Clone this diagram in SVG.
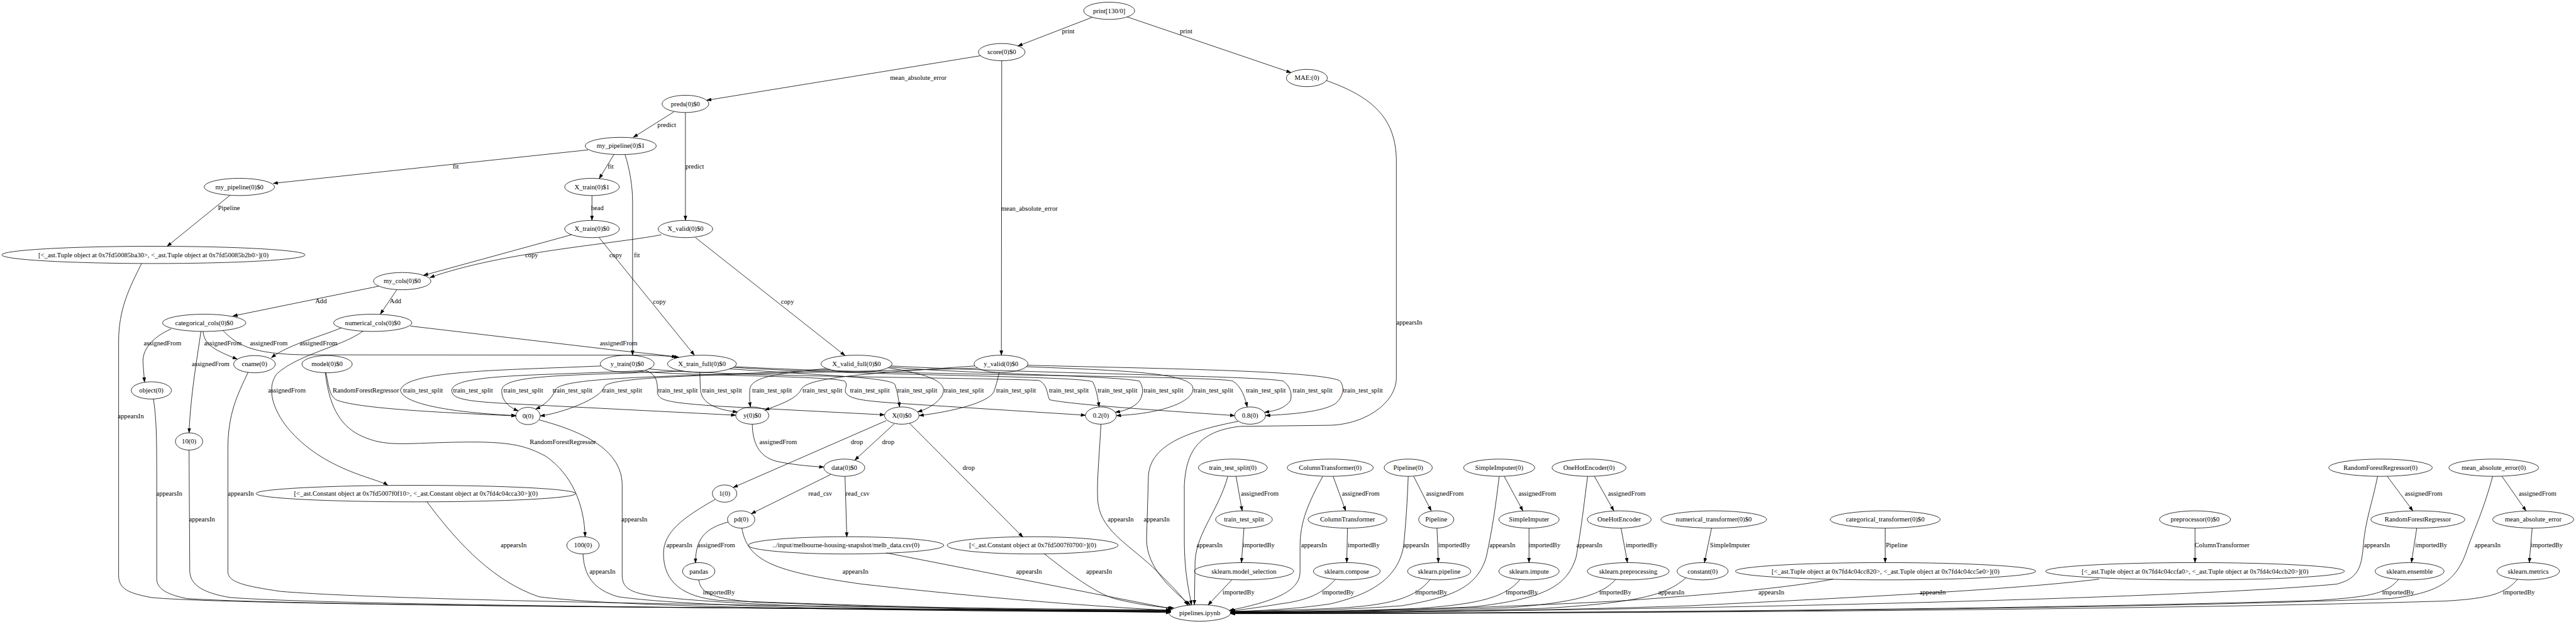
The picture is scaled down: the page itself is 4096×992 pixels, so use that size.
<svg xmlns="http://www.w3.org/2000/svg" width="4096" height="992" viewBox="0 0 4096 992">
<defs>
<style>
.n ellipse{fill:none;stroke:#000;stroke-width:1.4}
text{font-family:"Liberation Serif","Times New Roman",serif;font-size:18.67px;text-anchor:middle;fill:#000}
.e path{fill:none;stroke:#000;stroke-width:1.4;marker-end:url(#ah)}
</style>
<marker id="ah" markerUnits="userSpaceOnUse" markerWidth="14" markerHeight="10" refX="13" refY="5" orient="auto"><path d="M0,0 L14,5 L0,10 z" fill="#000"/></marker>
</defs>
<rect width="4096" height="992" fill="#fff"/>
<g transform="scale(0.57151)">
<g id="edges" class="e">
<path d="M3039,48 L2832,128"/><text x="2972" y="93">print</text>
<path d="M3136,47 L3592,202"/><text x="3300" y="93">print</text>
<path d="M2728,155 L1966,279"/><text x="2555" y="223">mean_absolute_error</text>
<path d="M2787,169 L2786,988"/><text x="2864" y="586">mean_absolute_error</text>
<path d="M1907,313 L1907,613"/><text x="1933" y="469">predict</text>
<path d="M1875,311 L1762,382"/><text x="1855" y="353">predict</text>
<path d="M1636,417 L760,510"/><text x="1268" y="469">fit</text>
<path d="M1708,430 L1667,497"/><text x="1699" y="469">fit</text>
<path d="M1739,430 C1752,470 1760,520 1760,560 L1760,988"/><text x="1772" y="715">fit</text>
<path d="M639,544 L465,685"/><text x="637" y="585">Pipeline</text>
<path d="M1647,544 L1647,613"/><text x="1662" y="585">head</text>
<path d="M1590,653 L1178,766"/><text x="1479" y="715">copy</text>
<path d="M1840,653 C1700,680 1400,700 1196,772"/><text x="1713" y="715">copy</text>
<path d="M1667,661 L1932,988"/><text x="1835" y="845">copy</text>
<path d="M1935,661 L2351,989"/><text x="2191" y="845">copy</text>
<path d="M1054,796 L648,879"/><text x="893" y="844">Add</text>
<path d="M1104,806 L1058,874"/><text x="1100" y="844">Add</text>
<path d="M476,915 C420,940 395,975 398,1010 L402,1063"/><text x="452" y="960">assignedFrom</text>
<path d="M559,922 C548,1000 530,1100 526,1204"/><text x="586" y="1019">assignedFrom</text>
<path d="M565,922 C568,960 600,975 660,999"/><text x="620" y="960">assignedFrom</text>
<path d="M620,919 C660,960 700,985 850,987 L1800,988 C1840,989 1865,991 1889,994"/><text x="748" y="960">assignedFrom</text>
<path d="M950,912 C880,940 800,960 755,995"/><text x="886" y="960">assignedFrom</text>
<path d="M1010,921 C950,965 830,985 770,1040 C740,1080 760,1140 800,1190 C900,1310 1050,1330 1079,1350"/><text x="798" y="1091">assignedFrom</text>
<path d="M1142,907 L1720,975 C1800,983 1850,988 1882,993"/><text x="1721" y="960">assignedFrom</text>
<path d="M907,1037 C915,1080 918,1100 935,1112 C1000,1140 1300,1150 1435,1157"/><text x="1018" y="1091">RandomForestRegressor</text>
<path d="M905,1037 C915,1120 940,1180 1000,1210 C1060,1240 1110,1235 1200,1232 C1400,1225 1450,1232 1520,1270 C1590,1320 1625,1400 1628,1493"/><text x="1566" y="1235">RandomForestRegressor</text>
<path d="M394,733 C360,800 330,860 330,950 L330,1600 C330,1640 360,1650 420,1662 C700,1690 3000,1695 3257,1698"/><text x="364" y="1164">appearsIn</text>
<path d="M427,1110 C434,1160 436,1200 436,1300 L436,1610 C436,1640 470,1655 520,1665 C900,1690 3000,1696 3257,1699"/><text x="471" y="1379">appearsIn</text>
<path d="M526,1252 L528,1590 C530,1630 570,1650 640,1662 C1000,1690 3000,1697 3257,1700"/><text x="562" y="1451">appearsIn</text>
<path d="M690,1036 C660,1100 634,1150 634,1250 L634,1590 C634,1620 680,1630 780,1645 C1200,1680 3000,1694 3257,1697"/><text x="670" y="1379">appearsIn</text>
<path d="M1188,1396 C1280,1520 1380,1620 1500,1660 C1800,1700 3000,1700 3257,1701"/><text x="1429" y="1523">appearsIn</text>
<path d="M1622,1541 C1625,1600 1650,1640 1720,1660 C2000,1700 3000,1702 3257,1702"/><text x="1676" y="1596">appearsIn</text>
<path d="M1500,1168 C1620,1200 1731,1250 1731,1350 L1731,1600 C1731,1640 1760,1650 1830,1660 C2200,1700 3000,1700 3257,1700"/><text x="1765" y="1451">appearsIn</text>
<path d="M3690,224 C3820,270 3885,330 3885,450 L3885,1050 C3885,1120 3800,1180 3700,1183 L3450,1186 C3330,1200 3300,1260 3295,1350 L3295,1500 C3295,1600 3310,1650 3315,1683"/><text x="3921" y="903">appearsIn</text>
<path d="M1672,1018 C1400,1030 1130,1030 1114,1085 C1120,1130 1300,1150 1436,1156"/><text x="1177" y="1091">train_test_split</text>
<path d="M1790,1031 C1500,1045 1262,1040 1257,1085 C1255,1110 1300,1116 1400,1122 L2047,1155"/><text x="1316" y="1091">train_test_split</text>
<path d="M1900,1032 C1600,1045 1400,1040 1396,1085 C1395,1110 1410,1130 1442,1143"/><text x="1456" y="1091">train_test_split</text>
<path d="M2310,1028 C1900,1050 1560,1045 1545,1085 C1535,1110 1510,1130 1490,1138"/><text x="1593" y="1091">train_test_split</text>
<path d="M2720,1024 C2200,1040 1700,1040 1682,1075 C1672,1110 1560,1150 1503,1157"/><text x="1731" y="1091">train_test_split</text>
<path d="M1795,1030 C1825,1040 1830,1060 1829,1090 C1830,1115 1860,1120 2000,1130 L2461,1154"/><text x="1886" y="1091">train_test_split</text>
<path d="M1947,1036 C1948,1060 1948,1075 1949,1085 C1952,1120 1990,1140 2052,1146"/><text x="2009" y="1091">train_test_split</text>
<path d="M2300,1025 C2150,1040 2088,1050 2086,1085 C2085,1110 2086,1120 2088,1132"/><text x="2148" y="1091">train_test_split</text>
<path d="M2712,1018 C2400,1040 2240,1050 2228,1085 C2215,1110 2170,1125 2128,1141"/><text x="2288" y="1091">train_test_split</text>
<path d="M1780,1033 C1900,1045 2300,1045 2350,1060 C2360,1070 2350,1080 2352,1090 C2360,1110 2400,1115 2500,1122 L3020,1155"/><text x="2420" y="1091">train_test_split</text>
<path d="M2030,1026 C2300,1045 2480,1050 2490,1070 C2497,1090 2500,1110 2503,1132"/><text x="2552" y="1091">train_test_split</text>
<path d="M2470,1023 C2580,1040 2625,1060 2625,1085 C2625,1110 2590,1135 2553,1146"/><text x="2682" y="1091">train_test_split</text>
<path d="M2780,1036 C2775,1060 2770,1075 2765,1090 C2750,1120 2650,1145 2557,1156"/><text x="2827" y="1091">train_test_split</text>
<path d="M1805,1026 C2000,1048 2700,1050 2890,1058 C2915,1070 2912,1095 2920,1112 C2980,1125 3200,1140 3435,1156"/><text x="2974" y="1091">train_test_split</text>
<path d="M2040,1022 C2400,1045 3000,1045 3040,1062 C3050,1080 3055,1110 3058,1132"/><text x="3109" y="1091">train_test_split</text>
<path d="M2475,1021 C2700,1040 3100,1045 3170,1060 C3185,1080 3180,1110 3160,1125 C3140,1140 3120,1144 3103,1147"/><text x="3237" y="1091">train_test_split</text>
<path d="M2855,1020 C3100,1030 3300,1035 3318,1075 C3330,1110 3250,1150 3106,1156"/><text x="3376" y="1091">train_test_split</text>
<path d="M2045,1020 C2500,1045 3380,1045 3430,1060 C3455,1075 3465,1110 3470,1132"/><text x="3522" y="1091">train_test_split</text>
<path d="M2480,1018 C2900,1040 3500,1045 3570,1060 C3592,1075 3595,1100 3590,1115 C3575,1135 3550,1143 3518,1147"/><text x="3652" y="1091">train_test_split</text>
<path d="M2858,1016 C3200,1025 3650,1030 3726,1058 C3740,1070 3742,1100 3715,1123 C3680,1145 3600,1152 3521,1156"/><text x="3792" y="1091">train_test_split</text>
<path d="M2093,1180 C2094,1230 2110,1270 2160,1283 C2200,1292 2250,1297 2292,1299"/><text x="2165" y="1235">assignedFrom</text>
<path d="M2488,1179 L2378,1280"/><text x="2471" y="1235">drop</text>
<path d="M2466,1170 L2040,1356"/><text x="2384" y="1235">drop</text>
<path d="M2531,1178 L2846,1494"/><text x="2695" y="1307">drop</text>
<path d="M2311,1320 L2090,1429"/><text x="2282" y="1379">read_csv</text>
<path d="M2351,1325 L2356,1494"/><text x="2386" y="1379">read_csv</text>
<path d="M2026,1452 C1960,1470 1935,1500 1935,1566"/><text x="1993" y="1523">assignedFrom</text>
<path d="M1990,1389 C1900,1440 1846,1480 1846,1540 C1846,1620 1900,1660 2000,1670 C2500,1690 3000,1698 3257,1703"/><text x="1890" y="1523">appearsIn</text>
<path d="M2064,1469 C2080,1560 2150,1590 2400,1625 C2800,1670 3100,1690 3257,1698"/><text x="2380" y="1595">appearsIn</text>
<path d="M1944,1613 C1950,1650 1980,1665 2100,1675 C2600,1695 3000,1700 3257,1704"/><text x="2000" y="1653">importedBy</text>
<path d="M2466,1538 L3262,1694"/><text x="2863" y="1595">appearsIn</text>
<path d="M2905,1540 C2980,1600 3050,1650 3100,1665 C3180,1685 3240,1690 3266,1691"/><text x="3058" y="1595">appearsIn</text>
<path d="M3063,1180 C3058,1280 3050,1350 3055,1400 C3065,1480 3150,1520 3220,1590 C3260,1630 3290,1660 3305,1684"/><text x="3118" y="1451">appearsIn</text>
<path d="M3445,1172 C3300,1200 3195,1240 3195,1330 L3190,1500 C3190,1580 3260,1640 3312,1683"/><text x="3218" y="1451">appearsIn</text>
<path d="M3439,1325 L3456,1421"/><text x="3505" y="1379">assignedFrom</text>
<path d="M3416,1325 C3390,1420 3330,1480 3325,1560 L3323,1682"/><text x="3365" y="1523">appearsIn</text>
<path d="M3461,1469 L3454,1565"/><text x="3502" y="1523">importedBy</text>
<path d="M3427,1613 L3361,1683"/><text x="3446" y="1653">importedBy</text>
<path d="M3709,1325 L3744,1421"/><text x="3786" y="1379">assignedFrom</text>
<path d="M3680,1325 C3640,1400 3617,1450 3617,1520 L3617,1590 C3617,1640 3560,1670 3420,1698"/><text x="3656" y="1523">appearsIn</text>
<path d="M3749,1469 L3747,1565"/><text x="3794" y="1523">importedBy</text>
<path d="M3715,1612 C3680,1650 3640,1670 3560,1680 C3500,1690 3460,1695 3424,1700"/><text x="3723" y="1653">importedBy</text>
<path d="M3933,1325 L3982,1421"/><text x="4020" y="1379">assignedFrom</text>
<path d="M3918,1325 C3915,1400 3912,1450 3905,1520 C3890,1600 3830,1650 3700,1680 C3600,1695 3500,1699 3424,1701"/><text x="3940" y="1523">appearsIn</text>
<path d="M3998,1469 L4002,1565"/><text x="4046" y="1523">importedBy</text>
<path d="M3979,1612 C3940,1660 3880,1680 3750,1690 C3600,1698 3480,1700 3424,1701"/><text x="3982" y="1653">importedBy</text>
<path d="M4185,1325 L4237,1421"/><text x="4277" y="1379">assignedFrom</text>
<path d="M4171,1325 C4160,1420 4150,1480 4135,1550 C4110,1630 4050,1660 3900,1685 C3700,1700 3500,1701 3424,1702"/><text x="4180" y="1523">appearsIn</text>
<path d="M4254,1469 L4254,1565"/><text x="4297" y="1523">importedBy</text>
<path d="M4229,1612 C4190,1660 4120,1680 3950,1692 C3700,1702 3500,1702 3424,1702"/><text x="4234" y="1653">importedBy</text>
<path d="M4436,1325 L4490,1421"/><text x="4526" y="1379">assignedFrom</text>
<path d="M4417,1325 C4405,1420 4398,1480 4385,1550 C4360,1630 4300,1665 4100,1688 C3800,1702 3550,1703 3424,1703"/><text x="4422" y="1523">appearsIn</text>
<path d="M4510,1469 L4528,1565"/><text x="4567" y="1523">importedBy</text>
<path d="M4495,1612 C4460,1650 4400,1675 4200,1690 C3900,1702 3550,1703 3424,1703"/><text x="4494" y="1653">importedBy</text>
<path d="M4762,1469 L4742,1565"/><text x="4813" y="1523">SimpleImputer</text>
<path d="M4690,1608 C4640,1650 4580,1675 4300,1692 C3950,1703 3550,1704 3424,1704"/><text x="4650" y="1653">appearsIn</text>
<path d="M5245,1469 L5245,1565"/><text x="5277" y="1523">Pipeline</text>
<path d="M5100,1611 C5000,1630 4850,1648 4500,1672 C4000,1698 3600,1704 3424,1704"/><text x="4928" y="1653">appearsIn</text>
<path d="M5840,1611 C5600,1640 5200,1660 4700,1685 C4200,1702 3700,1705 3424,1705"/><text x="5377" y="1653">appearsIn</text>
<path d="M6107,1469 L6107,1565"/><text x="6182" y="1523">ColumnTransformer</text>
<path d="M6642,1325 L6713,1421"/><text x="6743" y="1379">assignedFrom</text>
<path d="M6615,1325 C6600,1400 6580,1450 6575,1520 C6570,1580 6560,1610 6500,1625 C6000,1670 4500,1700 3424,1706"/><text x="6613" y="1523">appearsIn</text>
<path d="M6724,1469 L6709,1565"/><text x="6764" y="1523">importedBy</text>
<path d="M6673,1612 C6640,1650 6600,1660 6450,1670 C5500,1700 4000,1706 3424,1706"/><text x="6672" y="1653">importedBy</text>
<path d="M6961,1325 L7028,1421"/><text x="7060" y="1379">assignedFrom</text>
<path d="M6935,1325 C6910,1420 6880,1480 6860,1540 C6830,1620 6780,1650 6650,1665 C5800,1700 4000,1707 3424,1707"/><text x="6921" y="1523">appearsIn</text>
<path d="M7045,1469 L7037,1565"/><text x="7086" y="1523">importedBy</text>
<path d="M7004,1612 C6970,1650 6930,1665 6800,1672 C5800,1702 4000,1707 3424,1707"/><text x="7008" y="1653">importedBy</text>
</g>
<g id="n_print" class="n"><ellipse cx="3086" cy="30" rx="71" ry="24"/><text x="3086" y="36">print[130/0]</text></g>
<g id="n_score" class="n"><ellipse cx="2787" cy="145" rx="65" ry="24"/><text x="2787" y="151">score(0)$0</text></g>
<g id="n_MAE" class="n"><ellipse cx="3636" cy="217" rx="57" ry="24"/><text x="3636" y="223">MAE:(0)</text></g>
<g id="n_preds" class="n"><ellipse cx="1907" cy="289" rx="65" ry="24"/><text x="1907" y="295">preds(0)$0</text></g>
<g id="n_mp1" class="n"><ellipse cx="1727" cy="406" rx="99" ry="24"/><text x="1727" y="412">my_pipeline(0)$1</text></g>
<g id="n_mp0" class="n"><ellipse cx="666" cy="520" rx="98" ry="24"/><text x="666" y="526">my_pipeline(0)$0</text></g>
<g id="n_Xtr1" class="n"><ellipse cx="1647" cy="520" rx="76" ry="24"/><text x="1647" y="526">X_train(0)$1</text></g>
<g id="n_tupP" class="n"><ellipse cx="427" cy="709" rx="422" ry="24"/><text x="427" y="715">[&lt;_ast.Tuple object at 0x7fd50085ba30&gt;, &lt;_ast.Tuple object at 0x7fd50085b2b0&gt;](0)</text></g>
<g id="n_Xtr0" class="n"><ellipse cx="1647" cy="637" rx="76" ry="24"/><text x="1647" y="643">X_train(0)$0</text></g>
<g id="n_Xva0" class="n"><ellipse cx="1907" cy="637" rx="76" ry="24"/><text x="1907" y="643">X_valid(0)$0</text></g>
<g id="n_mycols" class="n"><ellipse cx="1119" cy="782" rx="80" ry="24"/><text x="1119" y="788">my_cols(0)$0</text></g>
<g id="n_cat" class="n"><ellipse cx="568" cy="898" rx="116" ry="24"/><text x="568" y="904">categorical_cols(0)$0</text></g>
<g id="n_num" class="n"><ellipse cx="1037" cy="898" rx="109" ry="24"/><text x="1037" y="904">numerical_cols(0)$0</text></g>
<g id="n_cname" class="n"><ellipse cx="708" cy="1013" rx="58" ry="24"/><text x="708" y="1019">cname(0)</text></g>
<g id="n_model" class="n"><ellipse cx="910" cy="1013" rx="70" ry="24"/><text x="910" y="1019">model(0)$0</text></g>
<g id="n_ytr" class="n"><ellipse cx="1745" cy="1012" rx="75" ry="24"/><text x="1745" y="1018">y_train(0)$0</text></g>
<g id="n_Xtf" class="n"><ellipse cx="1953" cy="1012" rx="96" ry="24"/><text x="1953" y="1018">X_train_full(0)$0</text></g>
<g id="n_Xvf" class="n"><ellipse cx="2383" cy="1012" rx="99" ry="24"/><text x="2383" y="1018">X_valid_full(0)$0</text></g>
<g id="n_yva" class="n"><ellipse cx="2785" cy="1012" rx="75" ry="24"/><text x="2785" y="1018">y_valid(0)$0</text></g>
<g id="n_object" class="n"><ellipse cx="421" cy="1086" rx="56" ry="24"/><text x="421" y="1092">object(0)</text></g>
<g id="n_zero" class="n"><ellipse cx="1469" cy="1157" rx="34" ry="24"/><text x="1469" y="1163">0(0)</text></g>
<g id="n_y" class="n"><ellipse cx="2093" cy="1156" rx="46" ry="24"/><text x="2093" y="1162">y(0)$0</text></g>
<g id="n_X" class="n"><ellipse cx="2509" cy="1156" rx="48" ry="24"/><text x="2509" y="1162">X(0)$0</text></g>
<g id="n_p2" class="n"><ellipse cx="3063" cy="1156" rx="43" ry="24"/><text x="3063" y="1162">0.2(0)</text></g>
<g id="n_p8" class="n"><ellipse cx="3478" cy="1156" rx="43" ry="24"/><text x="3478" y="1162">0.8(0)</text></g>
<g id="n_ten" class="n"><ellipse cx="526" cy="1228" rx="38" ry="24"/><text x="526" y="1234">10(0)</text></g>
<g id="n_data" class="n"><ellipse cx="2349" cy="1301" rx="57" ry="24"/><text x="2349" y="1307">data(0)$0</text></g>
<g id="n_tts0" class="n"><ellipse cx="3430" cy="1301" rx="96" ry="24"/><text x="3430" y="1307">train_test_split(0)</text></g>
<g id="n_CT0" class="n"><ellipse cx="3701" cy="1301" rx="120" ry="24"/><text x="3701" y="1307">ColumnTransformer(0)</text></g>
<g id="n_PL0" class="n"><ellipse cx="3918" cy="1301" rx="67" ry="24"/><text x="3918" y="1307">Pipeline(0)</text></g>
<g id="n_SI0" class="n"><ellipse cx="4171" cy="1301" rx="99" ry="24"/><text x="4171" y="1307">SimpleImputer(0)</text></g>
<g id="n_OH0" class="n"><ellipse cx="4421" cy="1301" rx="103" ry="24"/><text x="4421" y="1307">OneHotEncoder(0)</text></g>
<g id="n_RF0" class="n"><ellipse cx="6623" cy="1301" rx="144" ry="24"/><text x="6623" y="1307">RandomForestRegressor(0)</text></g>
<g id="n_MA0" class="n"><ellipse cx="6938" cy="1301" rx="125" ry="24"/><text x="6938" y="1307">mean_absolute_error(0)</text></g>
<g id="n_constT" class="n"><ellipse cx="1157" cy="1373" rx="445" ry="23"/><text x="1157" y="1379">[&lt;_ast.Constant object at 0x7fd5007f0f10&gt;, &lt;_ast.Constant object at 0x7fd4c04cca30&gt;](0)</text></g>
<g id="n_one" class="n"><ellipse cx="2016" cy="1373" rx="34" ry="24"/><text x="2016" y="1379">1(0)</text></g>
<g id="n_pd" class="n"><ellipse cx="2062" cy="1445" rx="38" ry="24"/><text x="2062" y="1451">pd(0)</text></g>
<g id="n_tts" class="n"><ellipse cx="3461" cy="1445" rx="79" ry="24"/><text x="3461" y="1451">train_test_split</text></g>
<g id="n_CT" class="n"><ellipse cx="3749" cy="1445" rx="110" ry="24"/><text x="3749" y="1451">ColumnTransformer</text></g>
<g id="n_PL" class="n"><ellipse cx="3996" cy="1445" rx="49" ry="24"/><text x="3996" y="1451">Pipeline</text></g>
<g id="n_SI" class="n"><ellipse cx="4254" cy="1445" rx="84" ry="24"/><text x="4254" y="1451">SimpleImputer</text></g>
<g id="n_OH" class="n"><ellipse cx="4505" cy="1445" rx="89" ry="24"/><text x="4505" y="1451">OneHotEncoder</text></g>
<g id="n_numT" class="n"><ellipse cx="4768" cy="1445" rx="147" ry="24"/><text x="4768" y="1451">numerical_transformer(0)$0</text></g>
<g id="n_catT" class="n"><ellipse cx="5245" cy="1445" rx="153" ry="24"/><text x="5245" y="1451">categorical_transformer(0)$0</text></g>
<g id="n_prep" class="n"><ellipse cx="6107" cy="1445" rx="99" ry="24"/><text x="6107" y="1451">preprocessor(0)$0</text></g>
<g id="n_RF" class="n"><ellipse cx="6727" cy="1445" rx="131" ry="24"/><text x="6727" y="1451">RandomForestRegressor</text></g>
<g id="n_MA" class="n"><ellipse cx="7048" cy="1445" rx="113" ry="24"/><text x="7048" y="1451">mean_absolute_error</text></g>
<g id="n_hundred" class="n"><ellipse cx="1622" cy="1517" rx="45" ry="24"/><text x="1622" y="1523">100(0)</text></g>
<g id="n_melb" class="n"><ellipse cx="2354" cy="1517" rx="272" ry="24"/><text x="2354" y="1523">../input/melbourne-housing-snapshot/melb_data.csv(0)</text></g>
<g id="n_c700" class="n"><ellipse cx="2873" cy="1517" rx="238" ry="24"/><text x="2873" y="1523">[&lt;_ast.Constant object at 0x7fd5007f0700&gt;](0)</text></g>
<g id="n_pandas" class="n"><ellipse cx="1944" cy="1589" rx="45" ry="24"/><text x="1944" y="1595">pandas</text></g>
<g id="n_skms" class="n"><ellipse cx="3461" cy="1589" rx="138" ry="24"/><text x="3461" y="1595">sklearn.model_selection</text></g>
<g id="n_skc" class="n"><ellipse cx="3747" cy="1589" rx="93" ry="24"/><text x="3747" y="1595">sklearn.compose</text></g>
<g id="n_skp" class="n"><ellipse cx="4004" cy="1589" rx="88" ry="24"/><text x="4004" y="1595">sklearn.pipeline</text></g>
<g id="n_ski" class="n"><ellipse cx="4254" cy="1589" rx="84" ry="24"/><text x="4254" y="1595">sklearn.impute</text></g>
<g id="n_skpre" class="n"><ellipse cx="4530" cy="1589" rx="114" ry="24"/><text x="4530" y="1595">sklearn.preprocessing</text></g>
<g id="n_const" class="n"><ellipse cx="4737" cy="1589" rx="71" ry="24"/><text x="4737" y="1595">constant(0)</text></g>
<g id="n_tupC" class="n"><ellipse cx="5246" cy="1589" rx="418" ry="24"/><text x="5246" y="1595">[&lt;_ast.Tuple object at 0x7fd4c04cc820&gt;, &lt;_ast.Tuple object at 0x7fd4c04cc5e0&gt;](0)</text></g>
<g id="n_tupF" class="n"><ellipse cx="6107" cy="1589" rx="416" ry="24"/><text x="6107" y="1595">[&lt;_ast.Tuple object at 0x7fd4c04ccfa0&gt;, &lt;_ast.Tuple object at 0x7fd4c04ccb20&gt;](0)</text></g>
<g id="n_ske" class="n"><ellipse cx="6704" cy="1589" rx="96" ry="24"/><text x="6704" y="1595">sklearn.ensemble</text></g>
<g id="n_skm" class="n"><ellipse cx="7034" cy="1589" rx="87" ry="24"/><text x="7034" y="1595">sklearn.metrics</text></g>
<g id="n_nb" class="n"><ellipse cx="3338" cy="1705" rx="86" ry="23"/><text x="3338" y="1711">pipelines.ipynb</text></g>
</g>
</svg>
